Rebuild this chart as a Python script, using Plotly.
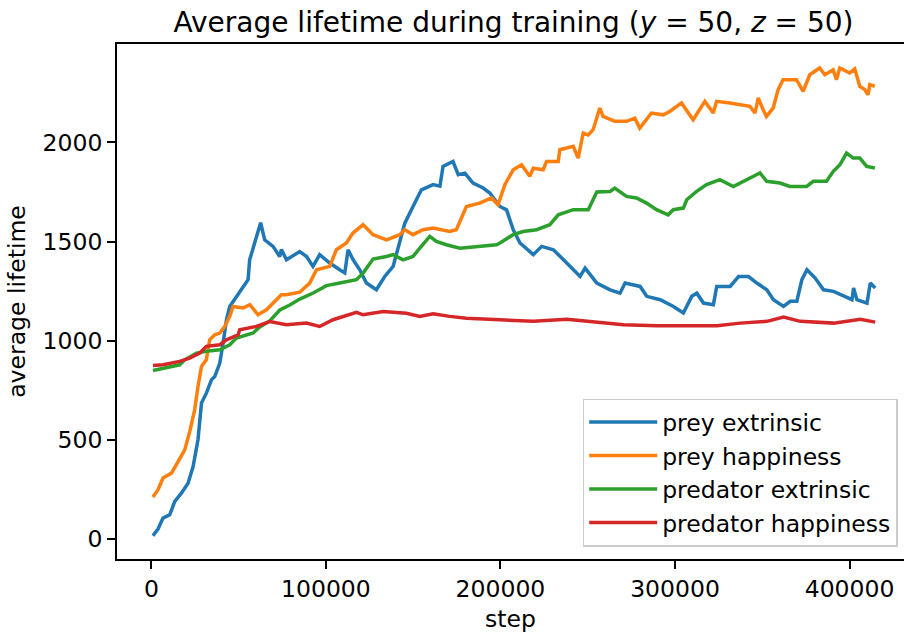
import plotly.graph_objects as go

# Training step (x) and average lifetime (y) for each agent/reward setting
prey_ext_step = [900, 3800, 6650, 10500, 13400, 17200, 21000, 23900, 26700, 28700, 31500, 34400,
                 36300, 39200, 41100, 43000, 44900, 48700, 52500, 55400, 56300, 59200, 61100, 62600,
                 64900, 69700, 73500, 74500, 77400, 85000, 88900, 92600, 96400, 102200, 107900,
                 110800, 112700, 115600, 119400, 123200, 128900, 133700, 138500, 142300, 145200,
                 149900, 154700, 161400, 165300, 167100, 172800, 175800, 179600, 184300, 190100,
                 193900, 199700, 203500, 207300, 211200, 218800, 223600, 230300, 238000, 245600,
                 248500, 255200, 262800, 268500, 271400, 280000, 283800, 291500, 299100, 304800,
                 309600, 312500, 316300, 322000, 323900, 331600, 336400, 342100, 346900, 352600,
                 356400, 362200, 366000, 369800, 372700, 375600, 380300, 385100, 390800, 396600,
                 401400, 402300, 404200, 410000, 411900, 414700]
prey_ext_life = [17, 51, 106, 123, 190, 232, 282, 366, 501, 686, 736, 803,
                 820, 888, 989, 1106, 1173, 1224, 1274, 1308, 1408, 1494, 1560, 1595,
                 1509, 1476, 1425, 1460, 1408, 1450, 1425, 1375, 1434, 1392, 1358,
                 1342, 1459, 1408, 1358, 1291, 1257, 1324, 1375, 1493, 1593,
                 1677, 1761, 1787, 1779, 1879, 1904, 1837, 1845, 1795, 1770,
                 1745, 1677, 1660, 1560, 1493, 1434, 1476, 1459, 1392, 1324,
                 1366, 1291, 1257, 1240, 1291, 1274, 1224, 1207, 1173, 1140,
                 1224, 1240, 1190, 1182, 1274, 1274, 1324, 1324, 1291, 1257,
                 1207, 1173, 1199, 1199, 1308, 1358, 1316, 1257, 1249, 1224,
                 1207, 1266, 1207, 1190, 1291, 1266]

prey_hap_step = [900, 3800, 6650, 11500, 15300, 19100, 22000, 24800, 26700, 28700, 31500, 33400,
                 36300, 39200, 42000, 44900, 46800, 52500, 56400, 61100, 65900, 69700, 74500,
                 77300, 85000, 90700, 94600, 102200, 106000, 111700, 115500, 121300, 127000,
                 134700, 142300, 145200, 149900, 155600, 161400, 170900, 174700, 180500, 188100,
                 194800, 198600, 202500, 207300, 212100, 216800, 218800, 224500, 226400, 233100,
                 234000, 241700, 244500, 247400, 250300, 253100, 256900, 258800, 265500, 272200,
                 277000, 279800, 286500, 293200, 297000, 303700, 310400, 317100, 321900, 323800,
                 331400, 339100, 342900, 345800, 347700, 350500, 352400, 356200, 359100, 361900,
                 369600, 373400, 377200, 382900, 385800, 390600, 392500, 394400, 400100, 403000,
                 405900, 408700, 410600, 411600, 414500]
prey_hap_life = [212, 249, 308, 333, 391, 450, 543, 652, 770, 870, 904, 1005,
                 1030, 1039, 1072, 1123, 1173, 1165, 1182, 1131, 1156, 1190, 1232,
                 1232, 1245, 1291, 1358, 1375, 1459, 1493, 1543, 1585, 1535,
                 1509, 1535, 1560, 1535, 1560, 1568, 1551, 1560, 1677, 1694,
                 1720, 1686, 1787, 1862, 1887, 1829, 1870, 1862, 1904, 1904,
                 1963, 1980, 1921, 2047, 2038, 2064, 2173, 2131, 2106, 2106,
                 2122, 2072, 2148, 2139, 2156, 2199, 2114, 2207, 2148, 2207,
                 2199, 2190, 2182, 2148, 2224, 2165, 2131, 2173, 2266, 2316,
                 2316, 2257, 2341, 2375, 2341, 2366, 2316, 2375, 2350, 2370,
                 2282, 2266, 2240, 2291, 2282]

pred_ext_step = [900, 6650, 16200, 19100, 25800, 31500, 39200, 44900, 48700, 58300, 62100, 67800,
                 73600, 79300, 85000, 92700, 100300, 107900, 117500, 121300, 127000, 134700,
                 138500, 144200, 149900, 153800, 159500, 163300, 169000, 176700, 186200, 197700,
                 199700, 207300, 213000, 220700, 228300, 233100, 241700, 250300, 255200, 262800,
                 265500, 272200, 277900, 283700, 289400, 296100, 299000, 304800, 306700, 312400,
                 318100, 325700, 333400, 341000, 348700, 352500, 360100, 365800, 375400, 379200,
                 386800, 390700, 394500, 398300, 402100, 405900, 409800, 414500]
pred_ext_life = [850, 862, 879, 904, 938, 947, 955, 980, 1014, 1039, 1070, 1100,
                 1155, 1180, 1210, 1241, 1278, 1291, 1308, 1341, 1412, 1425,
                 1434, 1408, 1425, 1467, 1526, 1501, 1484, 1467, 1476, 1484,
                 1493, 1535, 1551, 1560, 1585, 1635, 1661, 1661, 1750, 1753,
                 1770, 1728, 1720, 1694, 1661, 1635, 1661, 1669, 1711, 1753,
                 1787, 1812, 1778, 1812, 1846, 1804, 1795, 1778, 1778, 1804,
                 1804, 1854, 1888, 1946, 1921, 1921, 1879, 1871]

pred_hap_step = [900, 6650, 16200, 21900, 27700, 31500, 39200, 43000, 49700, 50600, 60200, 67800,
                 77300, 88800, 96400, 104100, 117500, 121300, 132800, 146100, 153800, 161400,
                 170900, 180500, 199700, 218800, 238000, 257100, 270500, 289600, 324000, 337400,
                 352700, 362200, 371800, 390900, 406200, 414700]
pred_hap_life = [875, 879, 896, 913, 938, 972, 980, 1005, 1030, 1056, 1072, 1097,
                 1081, 1089, 1072, 1106, 1143, 1131, 1148, 1139, 1123, 1136,
                 1123, 1114, 1106, 1098, 1109, 1092, 1081, 1076, 1076, 1089,
                 1098, 1119, 1098, 1089, 1109, 1094]

series = [
    ("prey extrinsic", prey_ext_step, prey_ext_life, "#1f77b4"),
    ("prey happiness", prey_hap_step, prey_hap_life, "#ff7f0e"),
    ("predator extrinsic", pred_ext_step, pred_ext_life, "#2ca02c"),
    ("predator happiness", pred_hap_step, pred_hap_life, "#d62728"),
]

x_ticks = [0, 100000, 200000, 300000, 400000]
y_ticks = [0, 500, 1000, 1500, 2000]

FONT = "DejaVu Sans"
FS = 23.5

fig = go.Figure()
for name, xs, ys, color in series:
    fig.add_trace(go.Scatter(x=xs, y=ys, mode="lines", name=name,
                             line=dict(color=color, width=3.5)))

axis_common = dict(
    showgrid=False, zeroline=False, showline=True, linecolor="black", linewidth=1.9,
    ticks="outside", ticklen=8, tickwidth=1.9, tickcolor="black",
    tickfont=dict(family=FONT, size=FS, color="black"),
)

fig.update_layout(
    width=904, height=634,
    margin=dict(l=117, r=0, t=44, b=75),
    paper_bgcolor="white", plot_bgcolor="white",
    font=dict(family=FONT, color="black"),
    title=dict(
        text="Average lifetime during training (<i>y</i> = 50, <i>z</i> = 50)",
        font=dict(family=FONT, size=28, color="black"),
        x=513.5 / 904, xanchor="center", xref="container",
        y=1 - 22 / 634, yanchor="middle", yref="container",
    ),
    xaxis=dict(
        **axis_common, range=[-19700, 431200], mirror=True,
        tickvals=x_ticks, ticktext=[str(v) for v in x_ticks],
        title=dict(text="step", font=dict(family=FONT, size=FS, color="black"), standoff=8),
    ),
    yaxis=dict(
        **axis_common, range=[-100, 2496],
        tickvals=y_ticks, ticktext=[str(v) for v in y_ticks],
        title=dict(text="average lifetime", font=dict(family=FONT, size=FS, color="black"), standoff=10),
    ),
    legend=dict(
        x=0.992, y=0.024, xanchor="right", yanchor="bottom",
        bgcolor="white", bordercolor="#cccccc", borderwidth=1.5,
        font=dict(family=FONT, size=FS, color="black"),
        itemwidth=68,
    ),
    showlegend=True,
)

fig.write_html("out.html")
